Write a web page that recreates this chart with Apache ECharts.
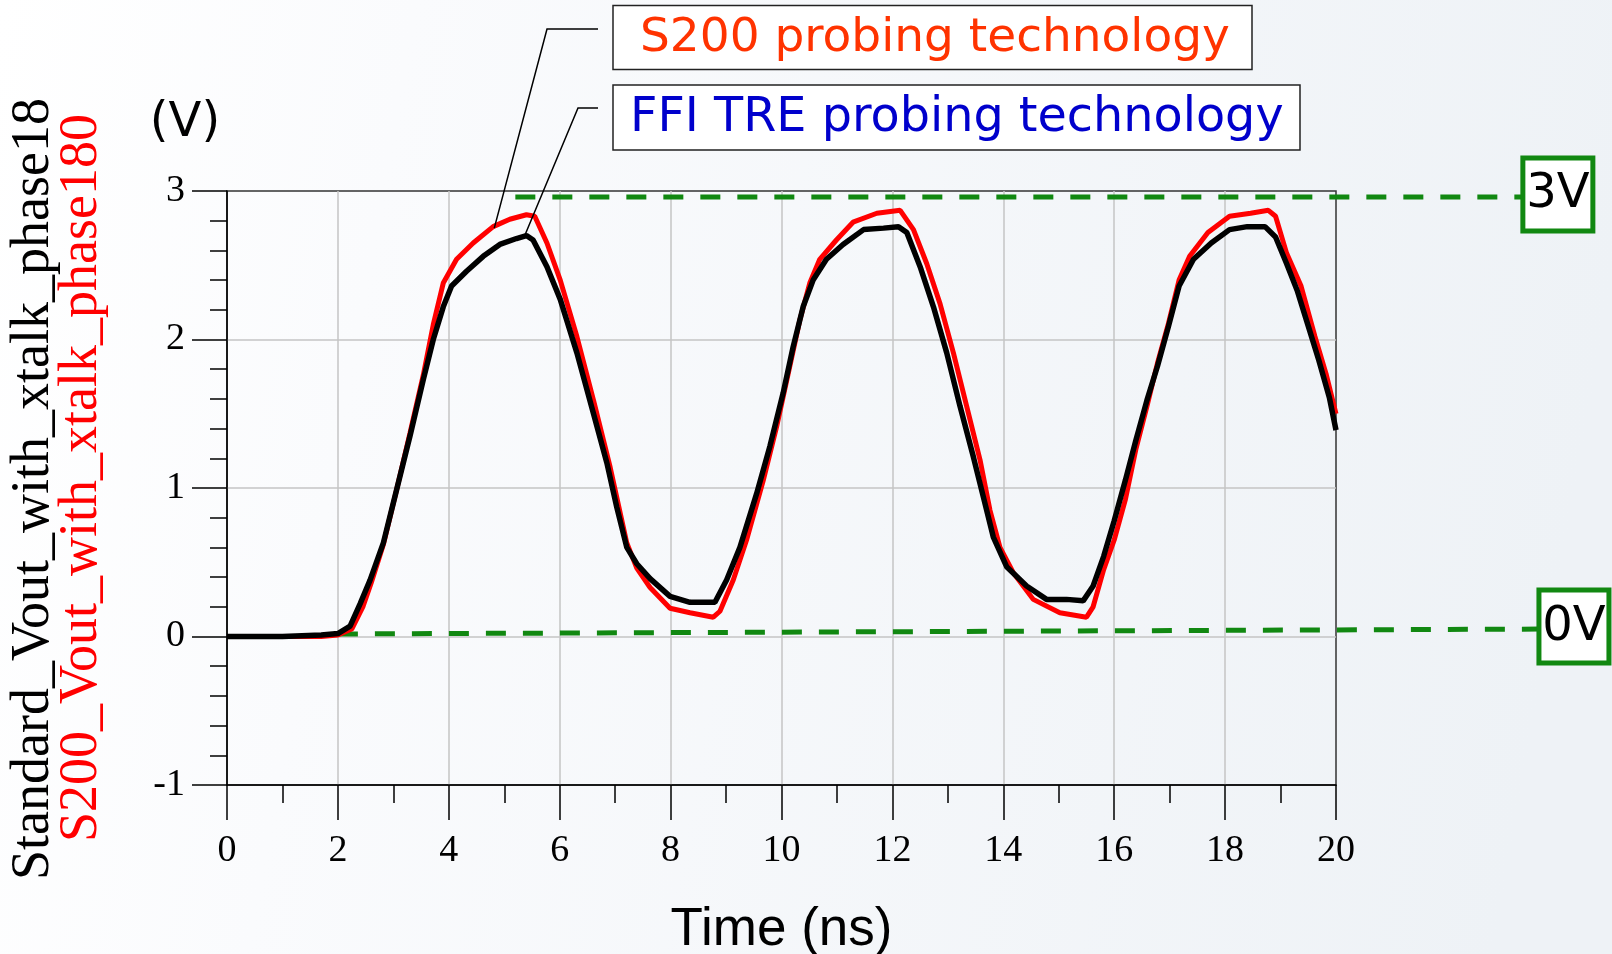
<!DOCTYPE html>
<html><head><meta charset="utf-8">
<script src="https://cdn.jsdelivr.net/npm/echarts@6/dist/echarts.min.js"></script>
<style>html,body{margin:0;padding:0;background:#fff}#c{width:1612px;height:954px}</style>
</head><body><div id="c"></div>
<script>
// ---- data ----
const timeS200 = [0, 1.0, 1.7, 2.0, 2.25, 2.45, 2.6, 2.82, 3.06, 3.30, 3.54, 3.72, 3.90, 4.14, 4.44, 4.80, 5.10, 5.40, 5.55, 5.77, 6.01, 6.31, 6.61, 6.91, 7.21, 7.39, 7.63, 7.99, 8.35, 8.77, 8.89, 9.13, 9.37, 9.67, 9.91, 10.15, 10.33, 10.51, 10.69, 10.99, 11.29, 11.72, 12.14, 12.38, 12.62, 12.86, 13.10, 13.34, 13.58, 13.76, 13.94, 14.18, 14.54, 15.02, 15.50, 15.62, 15.81, 16.00, 16.20, 16.39, 16.59, 16.78, 16.98, 17.17, 17.36, 17.69, 18.08, 18.46, 18.78, 18.91, 19.11, 19.37, 19.62, 19.82, 20.0];
const voltS200 = [0, 0, 0, 0.01, 0.05, 0.20, 0.36, 0.62, 0.99, 1.37, 1.76, 2.10, 2.38, 2.54, 2.65, 2.76, 2.81, 2.84, 2.83, 2.65, 2.40, 2.02, 1.59, 1.14, 0.63, 0.46, 0.33, 0.19, 0.16, 0.13, 0.17, 0.38, 0.65, 1.05, 1.41, 1.82, 2.13, 2.38, 2.54, 2.67, 2.79, 2.85, 2.87, 2.74, 2.51, 2.24, 1.91, 1.55, 1.19, 0.85, 0.60, 0.43, 0.25, 0.16, 0.13, 0.20, 0.45, 0.65, 0.92, 1.26, 1.55, 1.84, 2.11, 2.40, 2.56, 2.72, 2.83, 2.85, 2.87, 2.83, 2.58, 2.36, 2.02, 1.77, 1.50];
const timeStd = [0, 1.0, 1.7, 2.0, 2.22, 2.40, 2.58, 2.82, 3.06, 3.30, 3.54, 3.72, 3.90, 4.05, 4.32, 4.62, 4.92, 5.22, 5.40, 5.52, 5.77, 6.01, 6.31, 6.61, 6.85, 7.03, 7.21, 7.39, 7.63, 7.99, 8.35, 8.80, 9.01, 9.25, 9.55, 9.79, 10.03, 10.21, 10.39, 10.57, 10.81, 11.11, 11.48, 11.84, 12.11, 12.26, 12.50, 12.74, 12.98, 13.22, 13.46, 13.64, 13.82, 14.06, 14.42, 14.78, 15.14, 15.44, 15.62, 15.81, 16.00, 16.20, 16.39, 16.59, 16.78, 16.98, 17.17, 17.43, 17.75, 18.08, 18.40, 18.72, 18.91, 19.11, 19.30, 19.50, 19.69, 19.88, 20.0];
const voltStd = [0, 0, 0.01, 0.02, 0.07, 0.22, 0.38, 0.63, 0.99, 1.35, 1.73, 2.00, 2.22, 2.36, 2.46, 2.56, 2.64, 2.68, 2.70, 2.67, 2.49, 2.27, 1.91, 1.50, 1.17, 0.87, 0.60, 0.49, 0.39, 0.27, 0.23, 0.23, 0.38, 0.60, 0.96, 1.28, 1.64, 1.95, 2.22, 2.40, 2.54, 2.64, 2.74, 2.75, 2.76, 2.72, 2.49, 2.22, 1.91, 1.55, 1.21, 0.94, 0.67, 0.47, 0.34, 0.25, 0.25, 0.24, 0.34, 0.54, 0.78, 1.05, 1.32, 1.59, 1.82, 2.09, 2.36, 2.54, 2.65, 2.74, 2.76, 2.76, 2.69, 2.51, 2.33, 2.09, 1.86, 1.61, 1.39];
// guide levels (dashed green), [start, end] in data units
const guideHighT = [5.2, 23.37];
const guideHighV = [2.96, 2.96];
const guideLowT = [2.0, 23.66];
const guideLowV = [0.017, 0.05];
const guideLabels = ['3V', '0V'];
// texts
const nameS200 = 'S200_Vout_with_xtalk_phase180';
const nameStd = 'Standard_Vout_with_xtalk_phase18';
const titleS200 = 'S200 probing technology';
const titleFFI = 'FFI TRE probing technology';
const yUnit = '(V)';
const xName = 'Time (ns)';
// leader line targets on curves [t, v]
const leaderS200 = [4.82, 2.75];
const leaderStd = [5.37, 2.70];

const zip = (a, b) => a.map((t, i) => [t, b[i]]);

const chart = echarts.init(document.getElementById('c'));
const serif = '"Liberation Serif", "Times New Roman", serif';
const sans = '"DejaVu Sans", Verdana, sans-serif';

chart.setOption({
  animation: false,
  backgroundColor: {type: 'linear', x: 0, y: 0, x2: 1, y2: 0.3,
    colorStops: [{offset: 0, color: '#ffffff'}, {offset: 0.25, color: '#fafbfd'}, {offset: 1, color: '#eef2f6'}]},
  grid: {left: 227, right: 276, top: 191, bottom: 169, containLabel: false, outerBoundsMode: 'none',
    show: true, borderColor: '#333', borderWidth: 1.5, backgroundColor: 'transparent'},
  xAxis: {
    type: 'value', min: 0, max: 20, interval: 2,
    name: xName, nameLocation: 'middle', nameGap: 119,
    nameTextStyle: {fontFamily: '"Liberation Sans", Arial, sans-serif', fontSize: 53, color: '#000'},
    axisLine: {onZero: false, lineStyle: {color: '#000', width: 1.5}},
    axisTick: {show: true, inside: false, length: 35, lineStyle: {color: '#000', width: 1.5}},
    minorTick: {show: true, splitNumber: 2, length: 18, lineStyle: {color: '#000', width: 1.5}},
    axisLabel: {fontFamily: serif, fontSize: 38, color: '#000', margin: 47},
    splitLine: {show: true, showMinLine: false, showMaxLine: false, lineStyle: {color: '#c4c4c4', width: 1.5}}
  },
  yAxis: {
    type: 'value', min: -1, max: 3, interval: 1,
    axisLine: {onZero: false, lineStyle: {color: '#000', width: 1.5}},
    axisTick: {show: true, inside: false, length: 35, lineStyle: {color: '#000', width: 1.5}},
    minorTick: {show: true, splitNumber: 5, length: 17, lineStyle: {color: '#000', width: 1.5}},
    axisLabel: {fontFamily: serif, fontSize: 38, color: '#000', margin: 42},
    splitLine: {show: true, showMinLine: false, showMaxLine: false, lineStyle: {color: '#c4c4c4', width: 1.5}}
  },
  series: [
    {type: 'line', name: nameS200, data: zip(timeS200, voltS200), symbol: 'none', showSymbol: false,
      lineStyle: {color: '#ff0000', width: 5}, z: 3},
    {type: 'line', name: nameStd, data: zip(timeStd, voltStd), symbol: 'none', showSymbol: false,
      lineStyle: {color: '#000000', width: 5.5}, z: 4}
  ]
});

const px = p => chart.convertToPixel({gridIndex: 0}, p);
const hiStart = px([guideHighT[0], guideHighV[0]]);
const hiEnd = px([guideHighT[1], guideHighV[1]]);
const loStart = px([guideLowT[0], guideLowV[0]]);
const loEnd = px([guideLowT[1], guideLowV[1]]);
const lS = px(leaderS200);
const lB = px(leaderStd);

function guideLine(a, b) {
  return {type: 'line', shape: {x1: a[0], y1: a[1], x2: b[0], y2: b[1]},
    style: {stroke: '#118811', lineWidth: 5, lineDash: [20, 17]}, z: 2, silent: true};
}
function levelBox(p, label) {
  return {type: 'group', children: [
    {type: 'rect', shape: {x: p[0], y: p[1] - 39, width: 70, height: 73},
      style: {fill: '#ffffff', stroke: '#118811', lineWidth: 5}, z: 10},
    {type: 'text', x: p[0] + 35, y: p[1] - 2, z: 11,
      style: {text: label, fill: '#000', font: '48px ' + sans, align: 'center', verticalAlign: 'middle', textAlign: 'center', textVerticalAlign: 'middle'}}
  ]};
}

chart.setOption({graphic: [
  guideLine(hiStart, hiEnd),
  guideLine(loStart, loEnd),
  // title boxes
  {type: 'rect', shape: {x: 613, y: 5.5, width: 639, height: 64}, style: {fill: '#ffffff', stroke: '#222', lineWidth: 1.5}, z: 10},
  {type: 'text', x: 640, y: 39, z: 11, style: {text: titleS200, fill: '#ff3300', font: '47px ' + sans, align: 'left', verticalAlign: 'middle', textAlign: 'left', textVerticalAlign: 'middle'}},
  {type: 'rect', shape: {x: 613, y: 85, width: 687, height: 65}, style: {fill: '#ffffff', stroke: '#222', lineWidth: 1.5}, z: 10},
  {type: 'text', x: 630, y: 119, z: 11, style: {text: titleFFI, fill: '#0000cc', font: '47.7px ' + sans, align: 'left', verticalAlign: 'middle', textAlign: 'left', textVerticalAlign: 'middle'}},
  // leader lines
  {type: 'polyline', shape: {points: [[598, 29], [547, 29], lS]}, style: {stroke: '#000', lineWidth: 1.5, fill: null}, z: 12},
  {type: 'polyline', shape: {points: [[598, 108], [578, 108], lB]}, style: {stroke: '#000', lineWidth: 1.5, fill: null}, z: 12},
  // unit
  {type: 'text', x: 185, y: 124, z: 11, style: {text: yUnit, fill: '#000', font: '48px ' + sans, align: 'center', verticalAlign: 'middle', textAlign: 'center', textVerticalAlign: 'middle'}},
  // rotated y names
  {type: 'text', x: 34, y: 880, rotation: Math.PI / 2, z: 11, style: {text: nameStd, fill: '#000', font: '54px ' + serif, align: 'left', verticalAlign: 'middle', textAlign: 'left', textVerticalAlign: 'middle'}},
  {type: 'text', x: 82, y: 842, rotation: Math.PI / 2, z: 11, style: {text: nameS200, fill: '#ff0000', font: '54px ' + serif, align: 'left', verticalAlign: 'middle', textAlign: 'left', textVerticalAlign: 'middle'}},
  levelBox(hiEnd, guideLabels[0]),
  levelBox(loEnd, guideLabels[1])
]});
</script></body></html>
